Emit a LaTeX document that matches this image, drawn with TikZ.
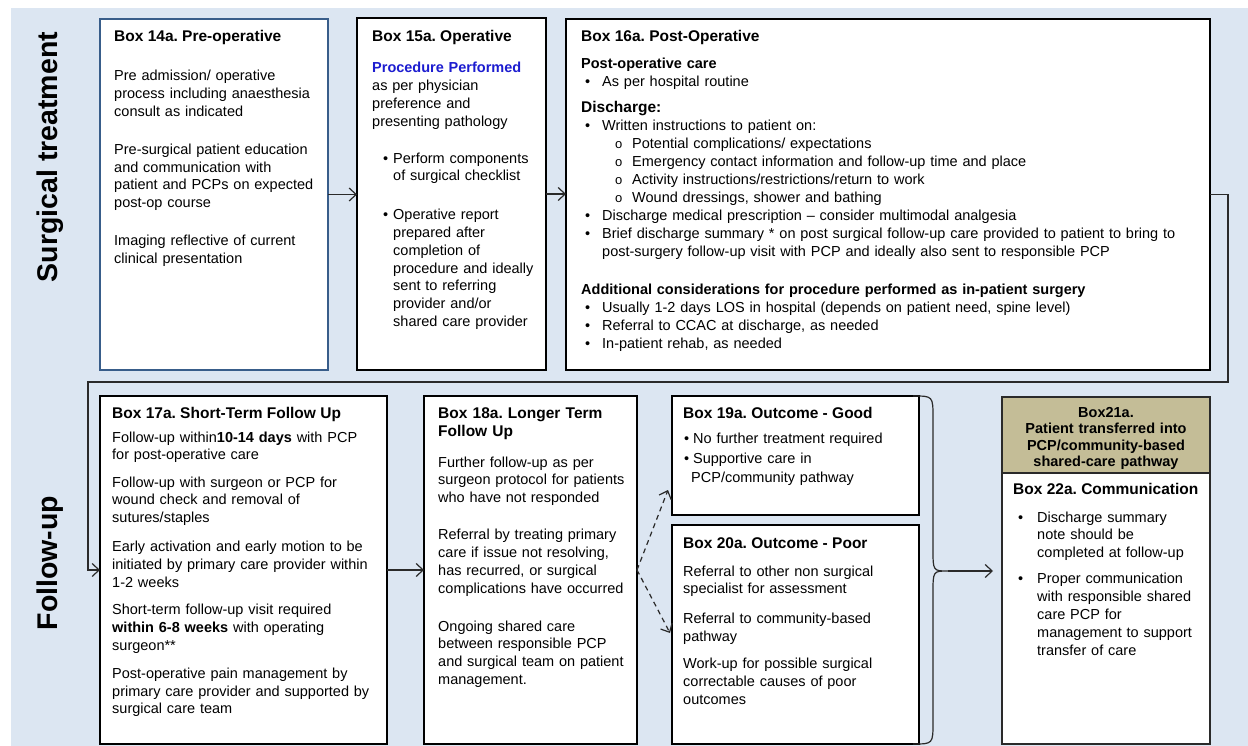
\documentclass[tikz,border=0pt]{standalone}
\usepackage{fontspec}
\setmainfont{Liberation Sans}
\usetikzlibrary{arrows.meta}
\definecolor{bgblue}{HTML}{DCE6F2}
\definecolor{tanfill}{HTML}{C4BD97}
\definecolor{bluebd}{HTML}{385D8A}
\definecolor{procblue}{HTML}{1C1CD0}
\definecolor{lncol}{HTML}{2A2A2A}
\newcommand{\bodyf}{\fontsize{14.5}{17.8}\selectfont}
\newcommand{\titf}{\fontsize{15.5}{18}\selectfont\bfseries}
\newcommand{\bul}[1]{\makebox[#1][l]{•}}
\newcommand{\subo}[1]{\makebox[#1][l]{\fontsize{13}{13}\selectfont o}}
\frenchspacing
\begin{document}
\begin{tikzpicture}[x=1pt,y=-1pt,
  box/.style={draw=black, line width=1.2pt, fill=white, inner sep=0pt, outer sep=0pt, anchor=north west},
  tit/.style={anchor=base west, inner sep=0pt, font=\titf},
  body/.style={anchor=base west, inner sep=0pt, align=left, text width=#1, font=\bodyf},
  arr/.style={draw=lncol, line width=1.2pt, -{Straight Barb[length=7pt,width=13pt]}},
  lab/.style={rotate=90, inner sep=0pt, font=\fontsize{28.5}{30}\selectfont\bfseries}
]
\useasboundingbox (0,0) rectangle (1248,746);
\fill[bgblue] (11,8) rectangle (1248,746);

% section labels
\node[lab] (labST) at (50,157) {Surgical treatment};
\node[lab] (labFU) at (50,563) {Follow-up};

% boxes
\node[box, draw=bluebd, minimum width=228pt, minimum height=351pt] (b14) at (100,19) {};
\node[box, minimum width=189pt, minimum height=352pt] (b15) at (357,18) {};
\node[box, minimum width=644pt, minimum height=351pt] (b16) at (566,19) {};
\node[box, minimum width=287pt, minimum height=348pt] (b17) at (100,396) {};
\node[box, minimum width=213pt, minimum height=348pt] (b18) at (424,396) {};
\node[box, minimum width=247pt, minimum height=119pt] (b19) at (672,396) {};
\node[box, minimum width=247pt, minimum height=219pt] (b20) at (672,525) {};
\node[box, draw=lncol, fill=tanfill, minimum width=208pt, minimum height=76pt] (b21) at (1002,397) {};
\node[box, draw=lncol, minimum width=208pt, minimum height=271pt] (b22) at (1002,473) {};

% Box 14a
\node[tit] (t14) at (114,42) {Box 14a. Pre-operative};
\node[body=210pt] (x14) at (114,81) {Pre admission/ operative\\process including anaesthesia\\consult as indicated\\[20pt]Pre-surgical patient education\\and communication with\\patient and PCPs on expected\\post-op course\\[20pt]Imaging reflective of current\\clinical presentation};

% Box 15a
\node[tit] (t15) at (372,42) {Box 15a. Operative};
\node[body=172pt] (x15) at (372,73) {\textcolor{procblue}{\textbf{Procedure Performed}}\\as per physician\\preference and\\presenting pathology\\[19pt]\hspace*{11pt}\bul{10pt}Perform components\\\hspace*{21pt}of surgical checklist\\[21pt]\hspace*{11pt}\bul{10pt}Operative report\\\hspace*{21pt}prepared after\\\hspace*{21pt}completion of\\\hspace*{21pt}procedure and ideally\\\hspace*{21pt}sent to referring\\\hspace*{21pt}provider and/or\\\hspace*{21pt}shared care provider};

% Box 16a
\node[tit] (t16) at (581,42) {Box 16a. Post-Operative};
\node[body=640pt, font=\fontsize{14.5}{18}\selectfont] (x16) at (581,69) {\textbf{Post-operative care}\\
\hspace*{4pt}\bul{17pt}As per hospital routine\\[8pt]
{\fontsize{15.5}{18}\selectfont\textbf{Discharge:}}\\
\hspace*{4pt}\bul{17pt}Written instructions to patient on:\\
\hspace*{34pt}\subo{17pt}Potential complications/ expectations\\
\hspace*{34pt}\subo{17pt}Emergency contact information and follow-up time and place\\
\hspace*{34pt}\subo{17pt}Activity instructions/restrictions/return to work\\
\hspace*{34pt}\subo{17pt}Wound dressings, shower and bathing\\
\hspace*{4pt}\bul{17pt}Discharge medical prescription – consider multimodal analgesia\\
\hspace*{4pt}\bul{17pt}Brief discharge summary * on post surgical follow-up care provided to patient to bring to\\
\hspace*{21pt}post-surgery follow-up visit with PCP and ideally also sent to responsible PCP\\[20pt]
\textbf{Additional considerations for procedure performed as in-patient surgery}\\
\hspace*{4pt}\bul{17pt}Usually 1-2 days LOS in hospital (depends on patient need, spine level)\\
\hspace*{4pt}\bul{17pt}Referral to CCAC at discharge, as needed\\
\hspace*{4pt}\bul{17pt}In-patient rehab, as needed};

% Box 17a
\node[tit] (t17) at (112,418) {Box 17a. Short-Term Follow Up};
\node[body=272pt] (x17) at (112,442) {Follow-up within\textbf{10-14 days} with PCP\\for post-operative care\\[9.5pt]Follow-up with surgeon or PCP for\\wound check and removal of\\sutures/staples\\[11pt]Early activation and early motion to be\\initiated by primary care provider within\\1-2 weeks\\[10pt]Short-term follow-up visit required\\\textbf{within 6-8 weeks} with operating\\surgeon**\\[10pt]Post-operative pain management by\\primary care provider and supported by\\surgical care team};

% Box 18a
\node[tit, text width=195pt, align=left] (t18) at (438,418) {Box 18a. Longer Term\\Follow Up};
\node[body=195pt] (x18) at (438,467) {Further follow-up as per\\surgeon protocol for patients\\who have not responded\\[19.5pt]Referral by treating primary\\care if issue not resolving,\\has recurred, or surgical\\complications have occurred\\[20pt]Ongoing shared care\\between responsible PCP\\and surgical team on patient\\management.};

% Box 19a
\node[tit] (t19) at (683,418) {Box 19a. Outcome - Good};
\node[body=230pt, font=\fontsize{14.5}{19}\selectfont] (x19) at (684,443) {\bul{9pt}No further treatment required\\[1pt]\bul{9pt}Supportive care in\\\hspace*{7pt}PCP/community pathway};

% Box 20a
\node[tit] (t20) at (683,548) {Box 20a. Outcome - Poor};
\node[body=230pt] (x20) at (683,576) {Referral to other non surgical\\specialist for assessment\\[12pt]Referral to community-based\\pathway\\[9.5pt]Work-up for possible surgical\\correctable causes of poor\\outcomes};

% Box 21a
\node[anchor=base, inner sep=0pt, text width=204pt, align=center, font=\fontsize{14.5}{16.5}\selectfont\bfseries] (t21) at (1106,417) {Box21a.\\Patient transferred into\\PCP/community-based\\shared-care pathway};

% Box 22a
\node[tit] (t22) at (1013,494) {Box 22a. Communication};
\node[body=190pt] (x22) at (1018,522) {\bul{19pt}Discharge summary\\\hspace*{19pt}note should be\\\hspace*{19pt}completed at follow-up\\[8.5pt]\bul{19pt}Proper communication\\\hspace*{19pt}with responsible shared\\\hspace*{19pt}care PCP for\\\hspace*{19pt}management to support\\\hspace*{19pt}transfer of care};

% connectors
\draw[arr] (b14.east) -- (b14.east -| b15.west);
\draw[arr] (b15.east) -- (b15.east -| b16.west);
\coordinate (turnA) at (1228,382);
\coordinate (turnB) at (88,382);
\draw[arr] (b16.east) -| (turnA) -- (turnB) |- (b17.west);
\draw[arr] (b17.east) -- (b17.east -| b18.west);
\coordinate (d19) at (668,490);
\coordinate (d20) at (670,633);
\draw[arr, dash pattern=on 5pt off 4pt] (b18.east) -- (d19);
\draw[arr, dash pattern=on 5pt off 4pt] (b18.east) -- (d20);
% brace
\coordinate (brtip) at (948,571);
\draw[draw=lncol, line width=1.2pt] (913,396) .. controls (933,396) .. (933,418) -- (933,549) .. controls (933,571) .. (brtip) .. controls (933,571) .. (933,593) -- (933,722) .. controls (933,744) .. (913,744);
\draw[arr, shorten >=9pt] (brtip) -- (brtip -| b22.west);
\end{tikzpicture}
\end{document}
